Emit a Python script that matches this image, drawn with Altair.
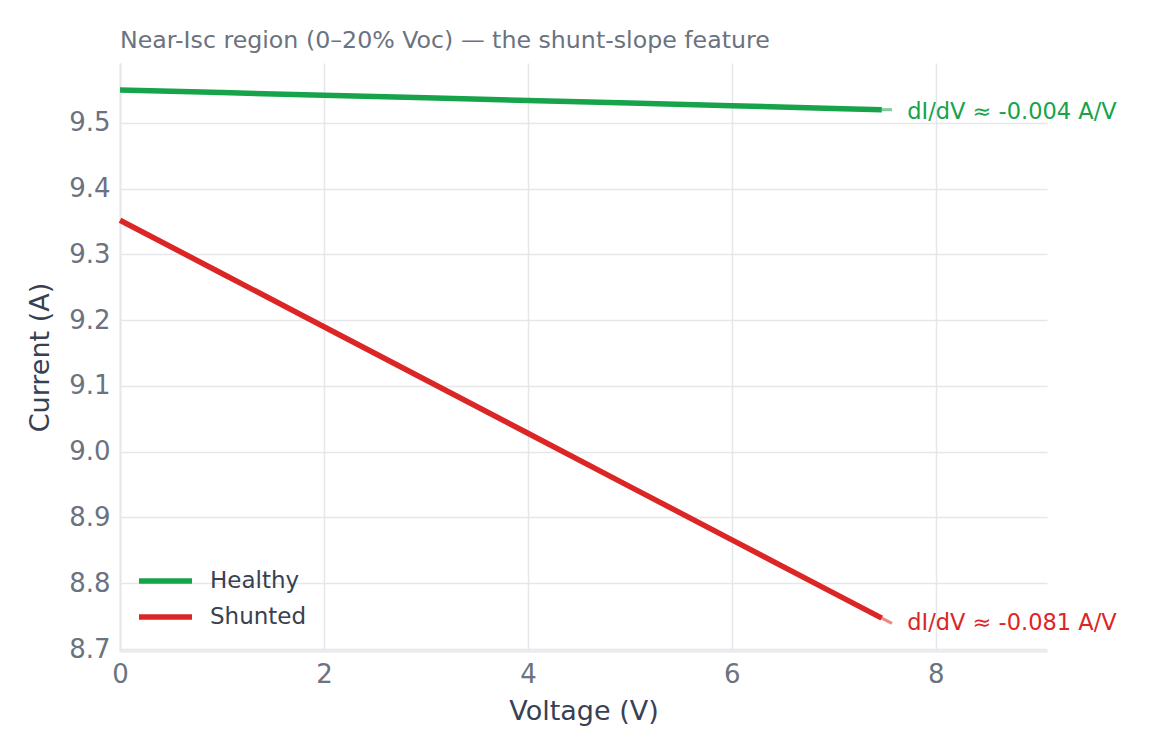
import altair as alt
import pandas as pd

# Data
voltage = [0.0, 1.0, 2.0, 3.0, 4.0, 5.0, 6.0, 7.0, 7.47]
healthy = [9.550, 9.546, 9.542, 9.538, 9.534, 9.530, 9.526, 9.522, 9.520]
shunted = [9.352, 9.271, 9.190, 9.109, 9.028, 8.947, 8.866, 8.785, 8.747]

leader_v = [7.47, 7.57]
leader_healthy = [9.520, 9.520]
leader_shunted = [8.747, 8.739]

label_v = 7.72
label_text = ["dI/dV ≈ -0.004 A/V", "dI/dV ≈ -0.081 A/V"]
label_i = [9.517, 8.740]
series = ["Healthy", "Shunted"]
colors = ["#16a34a", "#dc2626"]

rows = []
for v, h, s in zip(voltage, healthy, shunted):
    rows.append({"V": v, "I": h, "series": "Healthy"})
    rows.append({"V": v, "I": s, "series": "Shunted"})
df = pd.DataFrame(rows)

lrows = []
for v, h, s in zip(leader_v, leader_healthy, leader_shunted):
    lrows.append({"V": v, "I": h, "series": "Healthy"})
    lrows.append({"V": v, "I": s, "series": "Shunted"})
ldf = pd.DataFrame(lrows)

tdf = pd.DataFrame({"V": [label_v, label_v], "I": label_i, "text": label_text, "series": series})
legdf = pd.DataFrame({"series": series})

xscale = alt.Scale(domain=[0, 9.09], nice=False, zero=False)
yscale = alt.Scale(domain=[8.697, 9.591], nice=False, zero=False)
cscale = alt.Scale(domain=series, range=colors)

lines = alt.Chart(df).mark_line(strokeWidth=5.5).encode(
    x=alt.X("V:Q", scale=xscale, title="Voltage (V)",
            axis=alt.Axis(values=[0, 2, 4, 6, 8], format="d", labelFlush=False)),
    y=alt.Y("I:Q", scale=yscale, title="Current (A)",
            axis=alt.Axis(values=[8.7, 8.8, 8.9, 9.0, 9.1, 9.2, 9.3, 9.4, 9.5], format=".1f")),
    color=alt.Color("series:N", scale=cscale, legend=None),
)

leaders = alt.Chart(ldf).mark_line(strokeWidth=3, opacity=0.55).encode(
    x=alt.X("V:Q", scale=xscale),
    y=alt.Y("I:Q", scale=yscale),
    color=alt.Color("series:N", scale=cscale, legend=None),
    detail="series:N",
)

labels = alt.Chart(tdf).mark_text(align="left", baseline="middle", fontSize=22.5,
                                  font="DejaVu Sans").encode(
    x=alt.X("V:Q", scale=xscale),
    y=alt.Y("I:Q", scale=yscale),
    text="text:N",
    color=alt.Color("series:N", scale=cscale, legend=None),
)

# Legend (drawn as marks inside the plot, bottom-left)
legend_layers = []
for i, (name, ypos) in enumerate(zip(series, [518, 554])):
    base = alt.Chart(legdf).transform_filter(alt.datum.series == name)
    legend_layers.append(
        base.mark_rule(strokeWidth=5.5, strokeCap="butt").encode(
            x=alt.value(19), x2=alt.value(72), y=alt.value(ypos),
            color=alt.Color("series:N", scale=cscale, legend=None),
        )
    )
    legend_layers.append(
        base.mark_text(align="left", baseline="middle", fontSize=23,
                       font="DejaVu Sans", color="#374151").encode(
            x=alt.value(90), y=alt.value(ypos), text="series:N",
        )
    )

chart = alt.layer(lines, leaders, labels, *legend_layers).properties(
    width=927,
    height=588,
    title=alt.TitleParams("Near-Isc region (0–20% Voc) — the shunt-slope feature",
                          anchor="start", frame="group", fontSize=23.7, font="DejaVu Sans",
                          fontWeight="normal", color="#6b7280", offset=10),
    autosize=alt.AutoSizeParams(type="none"),
    padding={"left": 120, "top": 63, "right": 105, "bottom": 105},
    background="white",
).configure_view(stroke=None).configure_axis(
    grid=True, gridColor="#e5e7eb", gridWidth=1.5,
    domainColor="#e5e7eb", domainWidth=2,
    ticks=False, labelPadding=10,
    labelFont="DejaVu Sans", labelFontSize=26, labelColor="#6b7280",
    titleFont="DejaVu Sans", titleFontSize=27, titleColor="#374151",
    titleFontWeight="normal",
).configure_axisY(titlePadding=14).configure_axisX(titlePadding=11)

chart.save("out.html", embed_options={"renderer": "svg", "actions": False})
